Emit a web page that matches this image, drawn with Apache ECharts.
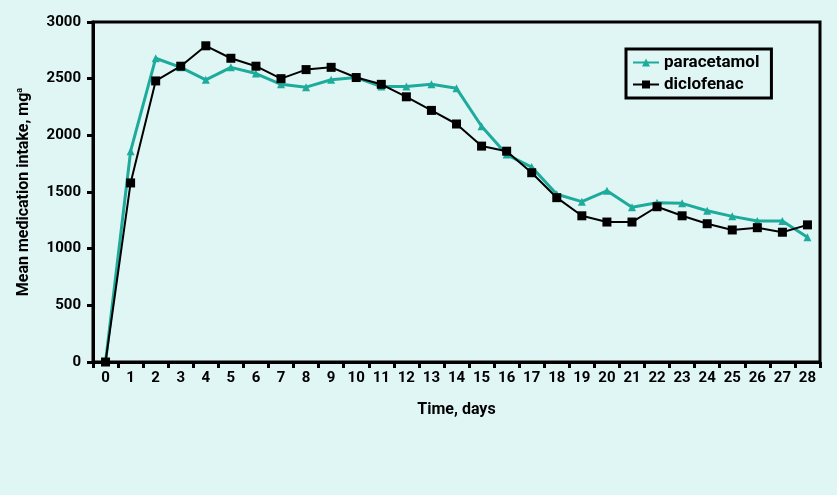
<!DOCTYPE html>
<html>
<head>
<meta charset="utf-8">
<script src="https://cdn.jsdelivr.net/npm/echarts@6/dist/echarts.min.js"></script>
<style>
  html, body { margin: 0; padding: 0; background: #dff6f5; }
  #chart { width: 837px; height: 495px; }
</style>
</head>
<body>
<div id="chart"></div>
<script>
// 横轴：天数
var days = ["0","1","2","3","4","5","6","7","8","9","10","11","12","13","14","15","16","17","18","19","20","21","22","23","24","25","26","27","28"];
// 对乙酰氨基酚
var paracetamol = [0, 1860, 2680, 2600, 2490, 2600, 2545, 2450, 2425, 2490, 2510, 2430, 2430, 2450, 2415, 2080, 1830, 1720, 1480, 1415, 1510, 1365, 1405, 1400, 1335, 1285, 1245, 1245, 1100];
// 双氯芬酸
var diclofenac = [0, 1580, 2480, 2610, 2790, 2680, 2610, 2500, 2580, 2600, 2510, 2450, 2340, 2220, 2100, 1905, 1860, 1670, 1450, 1290, 1235, 1235, 1370, 1290, 1220, 1165, 1185, 1145, 1210];
var yTicks = [0, 500, 1000, 1500, 2000, 2500, 3000];

var chart = echarts.init(document.getElementById("chart"));
var font = "Roboto";
chart.setOption({
  backgroundColor: "#dff6f5",
  animation: false,
  textStyle: { fontFamily: font },
  grid: {
    left: 93,
    right: 17,
    top: 22,
    bottom: 133,
    show: true,
    borderColor: "#000",
    borderWidth: 3,
    backgroundColor: "transparent"
  },
  legend: {
    left: 626,
    top: 49,
    orient: "vertical",
    borderColor: "#000",
    borderWidth: 3,
    padding: [5, 12, 5, 6],
    itemGap: 5,
    itemWidth: 26,
    itemHeight: 10,
    textStyle: { fontFamily: font, fontWeight: "bold", fontSize: 17, color: "#000" },
    data: ["paracetamol", "diclofenac"]
  },
  xAxis: {
    type: "category",
    data: days,
    boundaryGap: true,
    name: "Time, days",
    nameLocation: "middle",
    nameGap: 40,
    nameTextStyle: { fontFamily: font, fontWeight: "bold", fontSize: 16, color: "#000" },
    axisLine: { lineStyle: { color: "#000", width: 3 } },
    axisTick: { show: true, length: 6, lineStyle: { color: "#000", width: 3 } },
    axisLabel: { fontFamily: font, fontWeight: "bold", fontSize: 15, color: "#000", margin: 9, interval: 0 },
    splitLine: { show: false }
  },
  yAxis: {
    type: "value",
    min: yTicks[0],
    max: yTicks[yTicks.length - 1],
    interval: 500,
    name: "Mean medication intake, mg{sup|a}",
    nameLocation: "middle",
    nameGap: 60,
    nameTextStyle: {
      fontFamily: font, fontWeight: "bold", fontSize: 16, color: "#000",
      rich: {
        sup: { fontFamily: font, fontWeight: "bold", fontSize: 9, color: "#000", verticalAlign: "top", padding: [0, 0, 9, 0] }
      }
    },
    axisLine: { show: true, lineStyle: { color: "#000", width: 3 } },
    axisTick: { show: true, length: 6, lineStyle: { color: "#000", width: 3 } },
    axisLabel: {
      fontFamily: font, fontWeight: "bold", fontSize: 15, color: "#000", margin: 12,
      formatter: function (v) { return String(v); }
    },
    splitLine: { show: false }
  },
  series: [
    {
      name: "paracetamol",
      type: "line",
      data: paracetamol,
      color: "#1eab9c",
      symbol: "triangle",
      symbolSize: 8,
      lineStyle: { width: 3, color: "#1eab9c" },
      itemStyle: { color: "#1eab9c" },
      z: 2
    },
    {
      name: "diclofenac",
      type: "line",
      data: diclofenac,
      color: "#000",
      symbol: "rect",
      symbolSize: 9,
      lineStyle: { width: 2, color: "#000" },
      itemStyle: { color: "#000" },
      z: 3
    }
  ]
});
</script>
</body>
</html>
